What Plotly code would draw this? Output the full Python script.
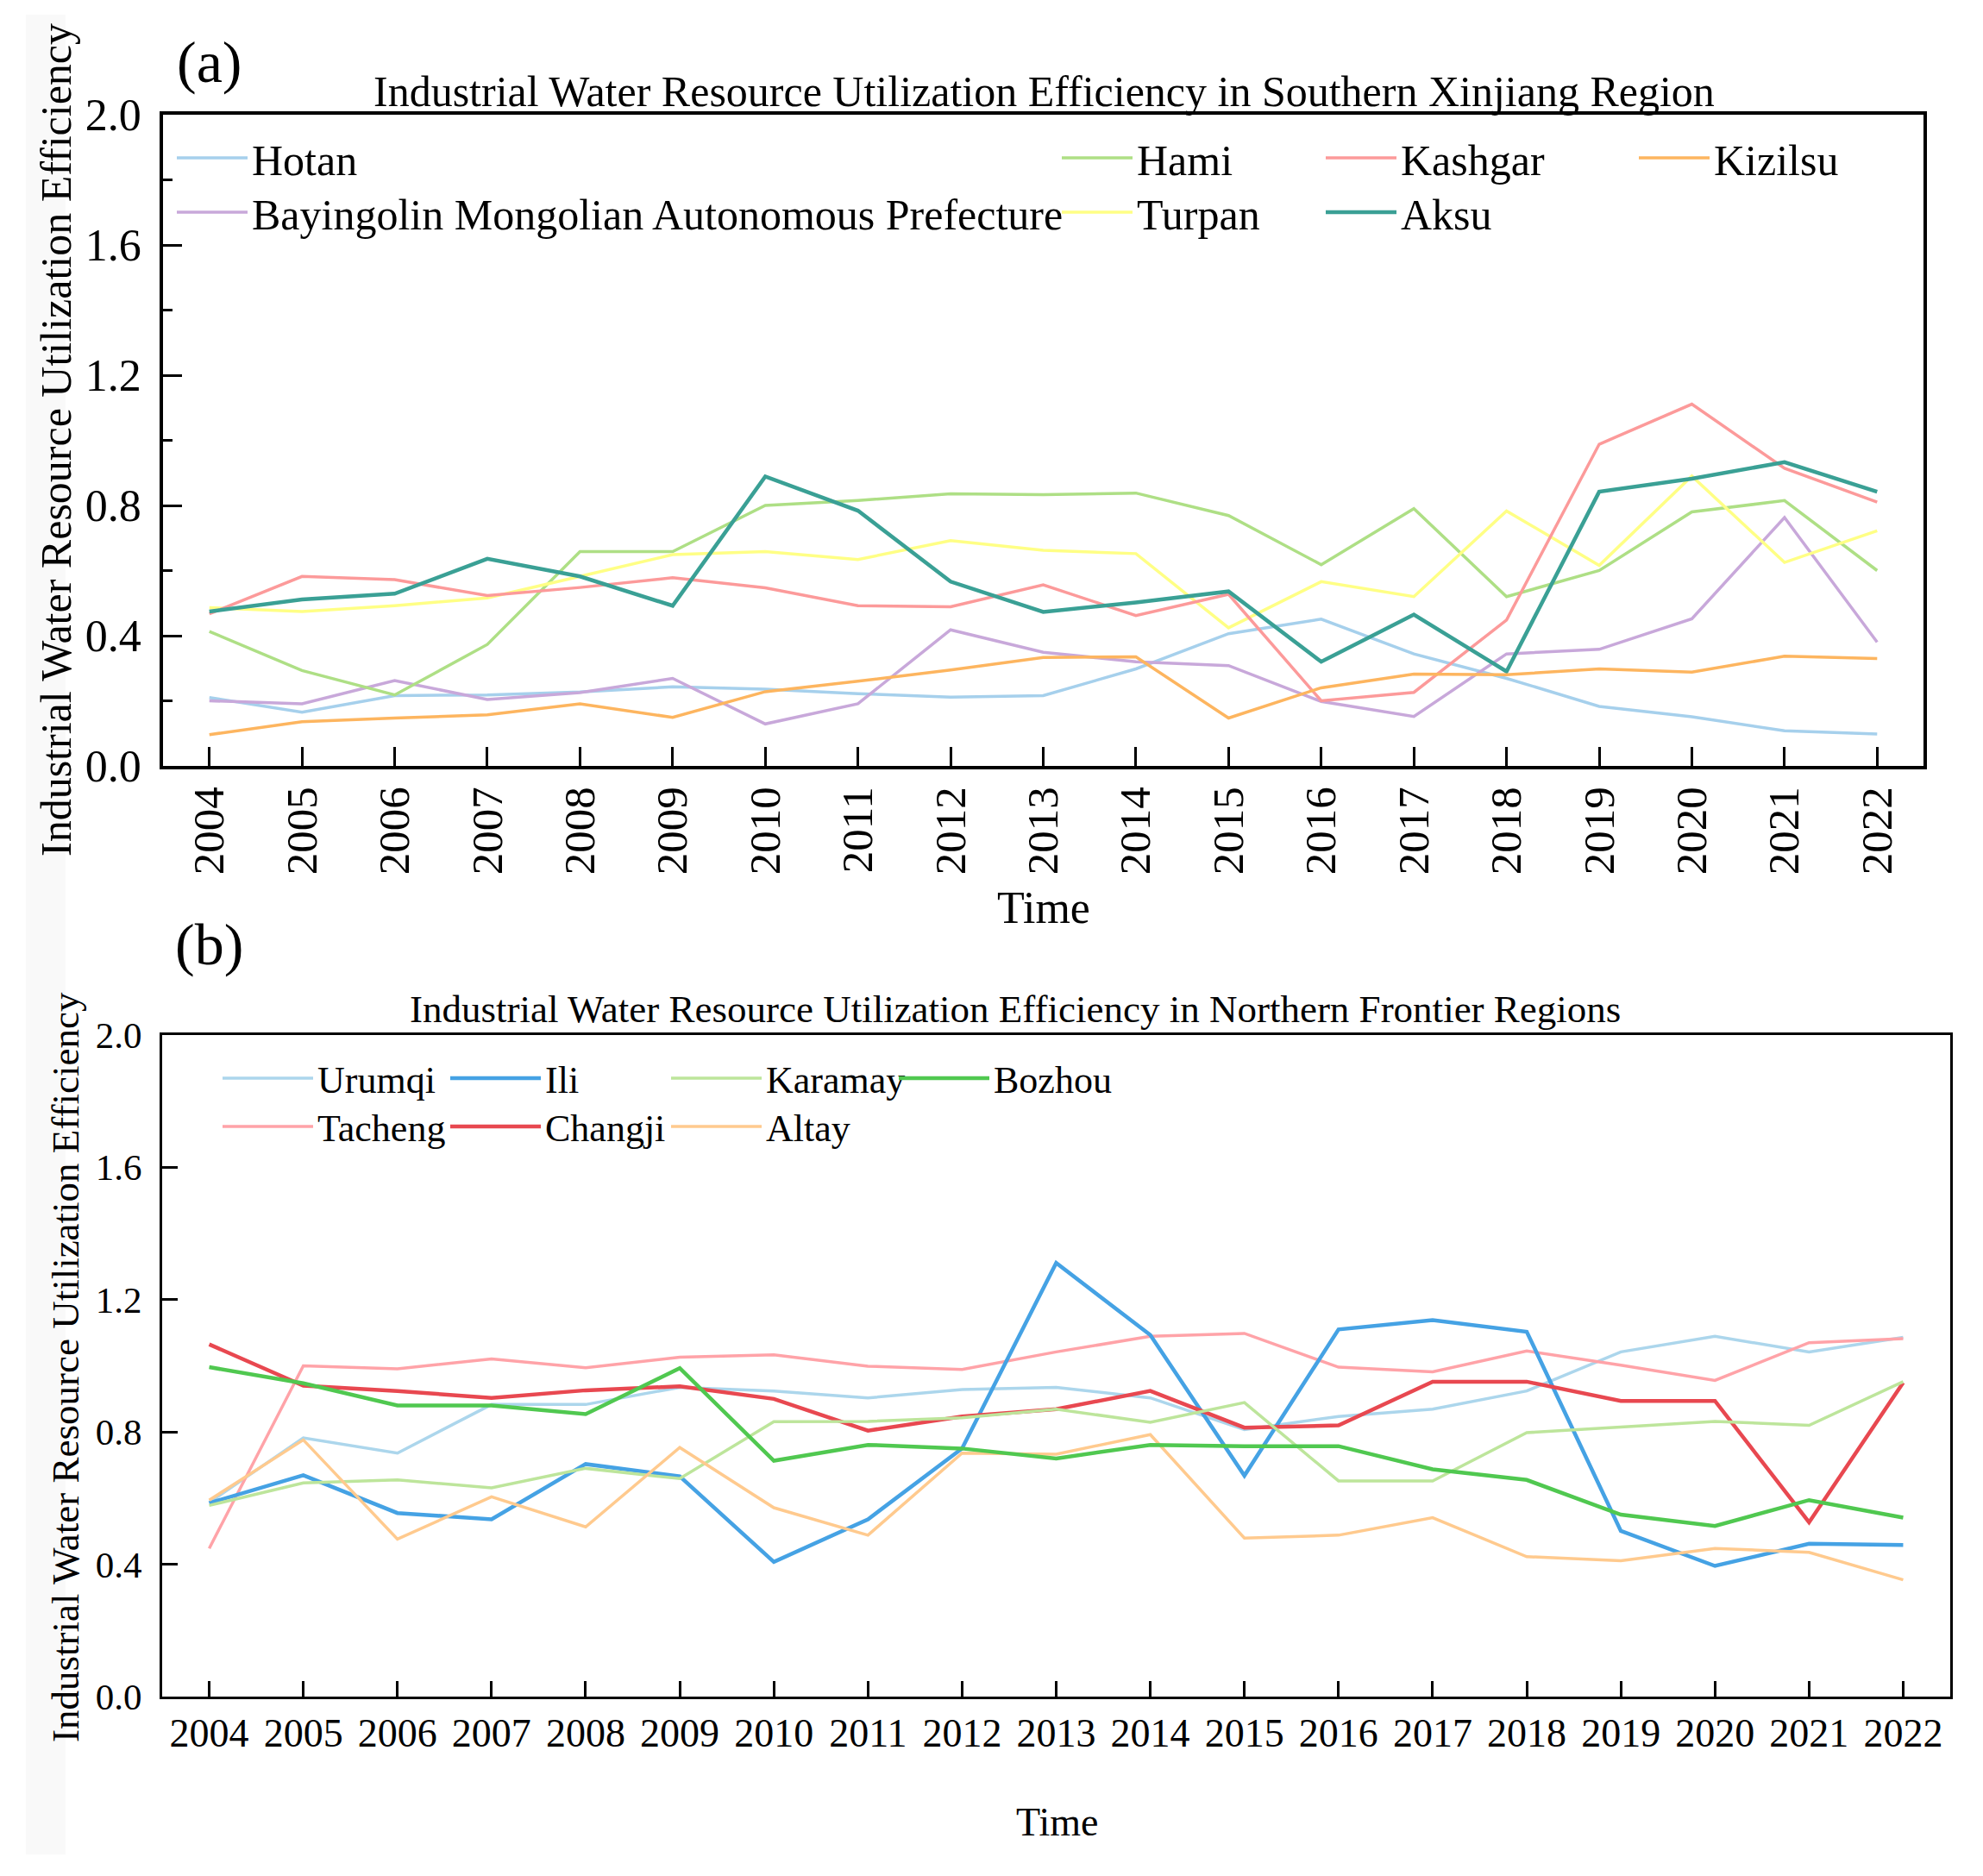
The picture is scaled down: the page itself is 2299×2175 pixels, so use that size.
import plotly.graph_objects as go

W, H = 2299, 2175
FONT = "Liberation Serif"
OFF = 8  # browser body margin compensation

years = list(range(2004, 2023))

# ---- Panel (a): Southern Xinjiang ----
south_names = ["Hotan", "Bayingolin Mongolian Autonomous Prefecture", "Hami", "Turpan", "Kashgar", "Aksu", "Kizilsu"]
hotan = [0.210, 0.165, 0.216, 0.218, 0.227, 0.243, 0.236, 0.222, 0.211, 0.216, 0.298, 0.406, 0.451, 0.344, 0.269, 0.183, 0.151, 0.108, 0.098]
bayingolin = [0.200, 0.191, 0.262, 0.204, 0.225, 0.269, 0.129, 0.191, 0.418, 0.349, 0.320, 0.308, 0.198, 0.152, 0.344, 0.358, 0.452, 0.763, 0.380]
hami = [0.413, 0.293, 0.218, 0.373, 0.658, 0.658, 0.800, 0.815, 0.836, 0.833, 0.838, 0.769, 0.618, 0.790, 0.520, 0.600, 0.780, 0.815, 0.600]
turpan = [0.486, 0.474, 0.492, 0.516, 0.582, 0.649, 0.658, 0.634, 0.692, 0.662, 0.652, 0.424, 0.566, 0.520, 0.783, 0.616, 0.890, 0.625, 0.722]
kashgar = [0.467, 0.582, 0.572, 0.523, 0.548, 0.578, 0.547, 0.492, 0.489, 0.556, 0.462, 0.527, 0.200, 0.226, 0.448, 0.988, 1.111, 0.914, 0.810]
aksu = [0.474, 0.511, 0.529, 0.636, 0.582, 0.492, 0.889, 0.784, 0.566, 0.473, 0.502, 0.536, 0.320, 0.465, 0.290, 0.842, 0.882, 0.933, 0.842]
kizilsu = [0.096, 0.136, 0.147, 0.157, 0.191, 0.149, 0.228, 0.260, 0.295, 0.333, 0.335, 0.147, 0.240, 0.282, 0.280, 0.298, 0.288, 0.337, 0.330]
south_values = [hotan, bayingolin, hami, turpan, kashgar, aksu, kizilsu]
south_colors = ["#A6D0EC", "#C8A8DA", "#AEDF85", "#FFFF85", "#FC9A9A", "#3AA095", "#FDB55F"]
south_widths = [3.5, 3.5, 3.5, 3.5, 3.5, 4.5, 3.5]

# ---- Panel (b): Northern Frontier ----
north_names = ["Urumqi", "Tacheng", "Ili", "Changji", "Karamay", "Altay", "Bozhou"]
urumqi = [0.587, 0.782, 0.736, 0.883, 0.883, 0.935, 0.924, 0.903, 0.928, 0.935, 0.903, 0.807, 0.847, 0.869, 0.924, 1.042, 1.089, 1.042, 1.086]
tacheng = [0.448, 1.000, 0.991, 1.021, 0.994, 1.026, 1.033, 0.999, 0.989, 1.042, 1.089, 1.098, 0.996, 0.982, 1.045, 1.002, 0.956, 1.070, 1.082]
ili = [0.585, 0.669, 0.555, 0.536, 0.703, 0.666, 0.407, 0.536, 0.750, 1.311, 1.093, 0.668, 1.110, 1.138, 1.103, 0.501, 0.395, 0.462, 0.458]
changji = [1.065, 0.940, 0.924, 0.903, 0.926, 0.938, 0.900, 0.804, 0.847, 0.869, 0.924, 0.813, 0.820, 0.952, 0.952, 0.894, 0.894, 0.527, 0.949]
karamay = [0.578, 0.646, 0.655, 0.631, 0.690, 0.659, 0.831, 0.832, 0.843, 0.869, 0.829, 0.889, 0.652, 0.652, 0.798, 0.815, 0.832, 0.820, 0.952]
altay = [0.594, 0.776, 0.476, 0.604, 0.513, 0.753, 0.571, 0.488, 0.736, 0.733, 0.792, 0.479, 0.488, 0.541, 0.423, 0.411, 0.448, 0.436, 0.353]
bozhou = [0.996, 0.947, 0.880, 0.880, 0.854, 0.993, 0.713, 0.761, 0.750, 0.720, 0.761, 0.757, 0.757, 0.687, 0.655, 0.550, 0.516, 0.594, 0.541]
north_values = [urumqi, tacheng, ili, changji, karamay, altay, bozhou]
north_colors = ["#ACD6EC", "#FFA3A8", "#45A2E4", "#E84850", "#BDE59B", "#FFCA8E", "#50C850"]
north_widths = [3.5, 3.5, 4.5, 4.5, 3.5, 3.5, 4.5]

y_ticks = [0.0, 0.4, 0.8, 1.2, 1.6, 2.0]


def px_x(p):
    return (p - OFF) / W


def px_y(p):
    return 1 - (p - OFF) / H


# legend slot (left x, top y) in reference pixel space, one per trace
south_cols = [200, 200, 1226, 1226, 1532, 1532, 1895]
south_rows = [144, 207, 144, 207, 144, 207, 144]
north_cols = [253, 253, 517, 517, 773, 773, 1037]
north_rows = [1215, 1271, 1215, 1271, 1215, 1271, 1215]

fig = go.Figure()
legend_cfg = {}
leg_common = dict(bgcolor="rgba(0,0,0,0)", borderwidth=0, orientation="v",
                  xanchor="left", yanchor="top", visible=True)
k = 0
for name, vals, col, lw, lx, ly in zip(south_names, south_values, south_colors, south_widths, south_cols, south_rows):
    k += 1
    key = "legend" if k == 1 else f"legend{k}"
    fig.add_trace(go.Scatter(x=years, y=vals, name=name, mode="lines", showlegend=True,
                             line=dict(color=col, width=lw), xaxis="x", yaxis="y", legend=key))
    legend_cfg[key] = dict(**leg_common, x=px_x(lx), y=px_y(ly),
                           font=dict(family=FONT, size=50, color="black"), itemwidth=82)
for name, vals, col, lw, lx, ly in zip(north_names, north_values, north_colors, north_widths, north_cols, north_rows):
    k += 1
    key = f"legend{k}"
    fig.add_trace(go.Scatter(x=years, y=vals, name=name, mode="lines", showlegend=True,
                             line=dict(color=col, width=lw), xaxis="x2", yaxis="y2", legend=key))
    legend_cfg[key] = dict(**leg_common, x=px_x(lx), y=px_y(ly),
                           font=dict(family=FONT, size=44, color="black"), itemwidth=105)

axis_common = dict(showgrid=False, zeroline=False, showline=True, mirror=True,
                   linecolor="black", ticks="inside", tickcolor="black",
                   automargin=False)

fig.update_layout(
    width=W, height=H,
    showlegend=True,
    margin=dict(l=0, r=0, t=0, b=0),
    paper_bgcolor="white", plot_bgcolor="white",
    font=dict(family=FONT, color="black"),
    xaxis=dict(**axis_common, domain=[px_x(189), px_x(2230)], range=[2003.5, 2022.5],
               tickvals=years, ticktext=[str(y) for y in years], tickangle=-90,
               tickfont=dict(size=51, family=FONT), ticklen=22, tickwidth=3, linewidth=3.5,
               anchor="y"),
    yaxis=dict(**axis_common, domain=[px_y(888), px_y(133)], range=[0, 2],
               tickvals=y_ticks, tickformat=".1f", tickfont=dict(size=52, family=FONT),
               ticklen=22, tickwidth=3, linewidth=3.5, anchor="x", ticklabelstandoff=11,
               minor=dict(dtick=0.2, ticks="inside", ticklen=11, tickwidth=3, tickcolor="black")),
    xaxis2=dict(**axis_common, domain=[px_x(188), px_x(2261)], range=[2003.5, 2022.5],
                tickvals=years, ticktext=[str(y) for y in years], tickangle=0,
                tickfont=dict(size=46, family=FONT), ticklen=18, tickwidth=2.5, linewidth=3,
                anchor="y2"),
    yaxis2=dict(**axis_common, domain=[px_y(1967), px_y(1200)], range=[0, 2],
                tickvals=y_ticks, tickformat=".1f", tickfont=dict(size=43, family=FONT),
                ticklen=18, tickwidth=2.5, linewidth=3, anchor="x2", ticklabelstandoff=12),
    **legend_cfg,
)

annotations = [
    dict(text="(a)", x=px_x(242), y=px_y(72), font=dict(size=68, family=FONT)),
    dict(text="(b)", x=px_x(242), y=px_y(1095), font=dict(size=68, family=FONT)),
    dict(text="Industrial Water Resource Utilization Efficiency in Southern Xinjiang Region",
         x=px_x(1210), y=px_y(106), font=dict(size=50, family=FONT)),
    dict(text="Industrial Water Resource Utilization Efficiency in Northern Frontier Regions",
         x=px_x(1177), y=px_y(1170), font=dict(size=45, family=FONT)),
    dict(text="Time", x=px_x(1210), y=px_y(1052), font=dict(size=52, family=FONT)),
    dict(text="Time", x=px_x(1225), y=px_y(2112), font=dict(size=46, family=FONT)),
    dict(text="Industrial Water Resource Utilization Efficiency", x=px_x(65), y=px_y(510),
         textangle=-90, font=dict(size=50, family=FONT)),
    dict(text="Industrial Water Resource Utilization Efficiency", x=px_x(76), y=px_y(1585),
         textangle=-90, font=dict(size=45, family=FONT)),
]
for a in annotations:
    a.update(xref="paper", yref="paper", showarrow=False, xanchor="center", yanchor="middle")
fig.update_layout(annotations=annotations)

fig.add_shape(type="rect", xref="paper", yref="paper", x0=px_x(30), x1=px_x(76),
              y0=px_y(2150), y1=px_y(17), fillcolor="#F9F9F9", line=dict(width=0), layer="below")

fig.write_html("out.html")
